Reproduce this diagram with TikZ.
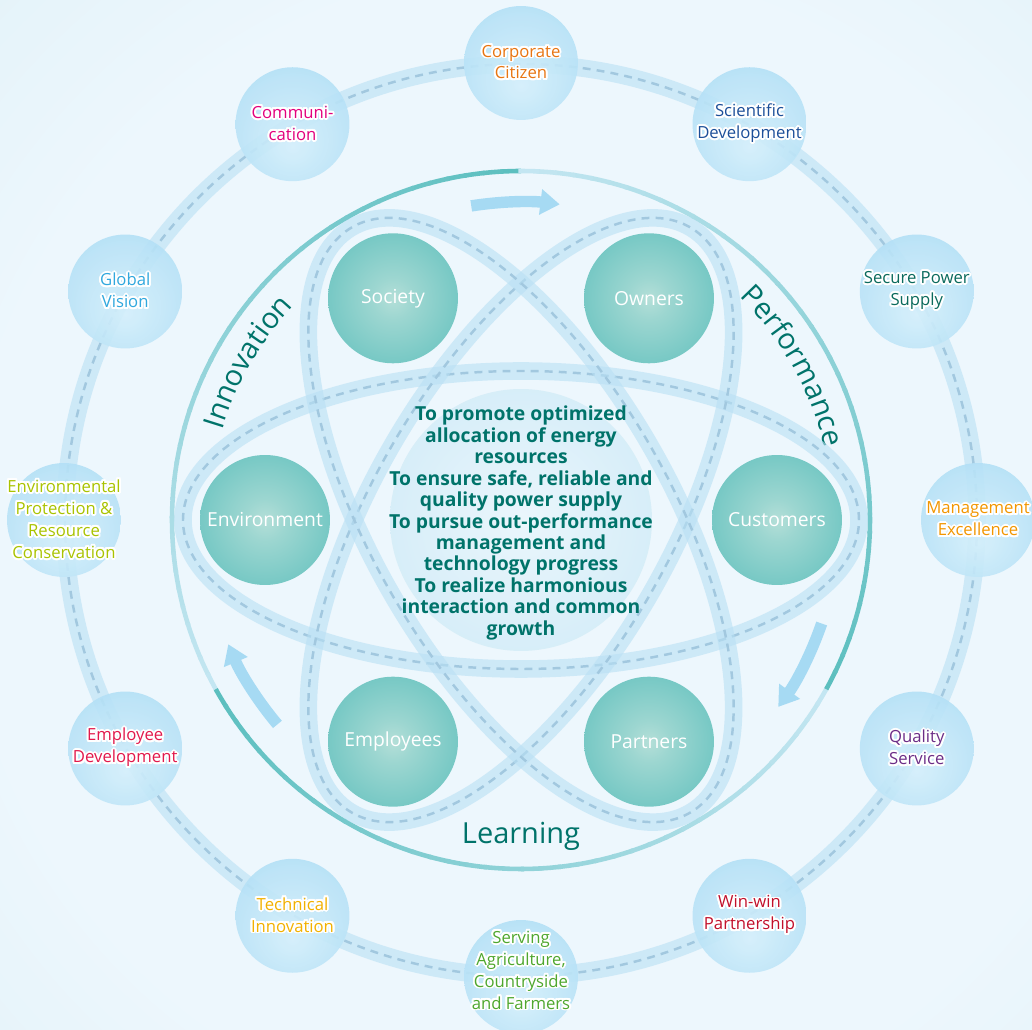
\documentclass[tikz,border=0pt]{standalone}
\usepackage{fontspec}
\setmainfont{Open Sans}
\usepackage{contour}
\contourlength{1.1pt}
\usetikzlibrary{arrows.meta, decorations.text, positioning}

\definecolor{bgin}{HTML}{EDF7FD}
\definecolor{bgout}{HTML}{C6E4EA}
\definecolor{ringteal}{HTML}{5CBFBF}
\definecolor{ringlight}{HTML}{C6E7F3}
\definecolor{orbitband}{HTML}{B9E0F4}
\definecolor{orbitdash}{HTML}{A2C8DF}
\definecolor{arrowblue}{HTML}{A6DAF3}
\definecolor{deepteal}{HTML}{00736A}
\definecolor{tealin}{HTML}{B4DFD8}
\definecolor{tealout}{HTML}{56BCBA}
\definecolor{bubin}{HTML}{D4EFFB}
\definecolor{bubout}{HTML}{92D1F1}
\definecolor{corein}{HTML}{EAF6FC}
\definecolor{coreout}{HTML}{BFE3F4}
% label colours
\definecolor{corpcol}{HTML}{E87511}
\definecolor{scicol}{HTML}{1C4F99}
\definecolor{securecol}{HTML}{0A6A5C}
\definecolor{mgmtcol}{HTML}{F29600}
\definecolor{qualcol}{HTML}{6C2D87}
\definecolor{wincol}{HTML}{C2102B}
\definecolor{servecol}{HTML}{4EA72E}
\definecolor{techcol}{HTML}{F2B100}
\definecolor{empcol}{HTML}{E2194C}
\definecolor{envcol}{HTML}{A9C300}
\definecolor{globalcol}{HTML}{30A8DE}
\definecolor{commcol}{HTML}{E3007D}

\pgfdeclareradialshading{bgshade}{\pgfpointorigin}{color(0bp)=(bgin); color(18bp)=(bgin); color(50bp)=(bgout)}
\pgfdeclareradialshading{tealshade}{\pgfpointorigin}{color(0bp)=(tealin); color(8bp)=(tealin!75!tealout); color(40bp)=(tealout); color(50bp)=(tealout)}
\pgfdeclareradialshading{bubshade}{\pgfpoint{0bp}{-10bp}}{color(0bp)=(bubin); color(25bp)=(bubin!60!bubout); color(50bp)=(bubout)}
\pgfdeclareradialshading{coreshade}{\pgfpointorigin}{color(0bp)=(corein); color(28bp)=(corein!50!coreout); color(50bp)=(coreout)}

\newcommand{\halo}[1]{\contour{white}{#1}}

\tikzset{
  bubble/.style={circle, minimum size=2.28cm, inner sep=0pt, shade, shading=bubshade, fill opacity=0.9},
  bubtext/.style={align=center, font=\fontsize{9.5}{12.5}\selectfont},
  hub/.style={circle, minimum size=2.6cm, inner sep=0pt, shade, shading=tealshade, text=white, font=\fontsize{11}{13}\selectfont},
  core/.style={circle, minimum size=5.24cm, inner sep=0pt, shade, shading=coreshade},
  band/.style={line width=10pt, draw=orbitband, draw opacity=0.6},
  dashline/.style={line width=1.4pt, draw=orbitdash, dash pattern=on 4.5pt off 3.5pt},
  ringarc/.style={line width=2.6pt},
  turnarrow/.style={line width=6.5pt, draw=arrowblue, -{Triangle[width=14pt, length=11pt]}},
  ringword/.style={text=deepteal, font=\fontsize{16.5}{16.5}\selectfont},
}

\begin{document}
\begin{tikzpicture}[x=0.02cm, y=0.02cm]

    \useasboundingbox (-521,-510) rectangle (511,520);
    \begin{scope}
        \clip (-521,-510) rectangle (511,520);
        \shade[shading=bgshade] (30,-30) circle (800);
    \end{scope}

    % outer ring
    \draw[band] (0,0) circle (456);
    \draw[dashline] (0,0) circle (456);

    \node[bubble] (corporate) at (90:457) {};
    \node[bubble] (scientific) at (60:457) {};
    \node[bubble] (secure) at (30:457) {};
    \node[bubble] (management) at (0:457) {};
    \node[bubble] (quality) at (-30:457) {};
    \node[bubble] (winwin) at (-60:457) {};
    \node[bubble] (serving) at (-90:457) {};
    \node[bubble] (technical) at (-120:457) {};
    \node[bubble] (employee) at (-150:457) {};
    \node[bubble] (environmental) at (180:457) {};
    \node[bubble] (global) at (150:457) {};
    \node[bubble] (communication) at (120:457) {};

    \node[bubtext, text=corpcol] at (corporate) {\halo{Corporate}\\\halo{Citizen}};
    \node[bubtext, text=scicol] at (scientific) {\halo{Scientific}\\\halo{Development}};
    \node[bubtext, text=securecol] at (secure) {\halo{Secure Power}\\\halo{Supply}};
    \node[bubtext, text=mgmtcol] at (management) {\halo{Management}\\\halo{Excellence}};
    \node[bubtext, text=qualcol] at (quality) {\halo{Quality}\\\halo{Service}};
    \node[bubtext, text=wincol] at (winwin) {\halo{Win-win}\\\halo{Partnership}};
    \node[bubtext, text=servecol] at ([yshift=0.12cm]serving.center) {\halo{Serving}\\\halo{Agriculture,}\\\halo{Countryside}\\\halo{and Farmers}};
    \node[bubtext, text=techcol] at (technical) {\halo{Technical}\\\halo{Innovation}};
    \node[bubtext, text=empcol] at (employee) {\halo{Employee}\\\halo{Development}};
    \node[bubtext, text=envcol] at (environmental) {\halo{Environmental}\\\halo{Protection \&}\\\halo{Resource}\\\halo{Conservation}};
    \node[bubtext, text=globalcol] at (global) {\halo{Global}\\\halo{Vision}};
    \node[bubtext, text=commcol] at (communication) {\halo{Communi-}\\\halo{cation}};

    % inner ring, teal fading to light
    \foreach \sa/\sb in {90/209, 209/331, 331/450} {
        \foreach \i in {0,...,39} {
            \pgfmathsetmacro\a{\sa+(\sb-\sa)*\i/40}
            \pgfmathsetmacro\b{\sa+(\sb-\sa)*(\i+1.15)/40}
            \pgfmathsetmacro\mix{100-2.5*\i}
            \draw[ringarc, draw=ringteal!\mix!ringlight] (\a:349) arc (\a:\b:349);
        }
    }

    \draw[turnarrow] (99:318) arc (99:83:318);
    \draw[turnarrow] (-19:318) arc (-19:-36:318);
    \draw[turnarrow] (220:318) arc (220:203:318);

    \path[decorate, decoration={text along path, text align=center,
        text={|\fontsize{16.5}{16.5}\selectfont\color{deepteal}|Innovation}}]
        (172:312) arc (172:128:312);
    \path[decorate, decoration={text along path, text align=center,
        text={|\fontsize{16.5}{16.5}\selectfont\color{deepteal}|Performance}}]
        (52:312) arc (52:7:312);
    \node[ringword] (learning) at (0,-316) {Learning};

    % centre and orbits
    \node[core] (core) at (0,0) {};
    \foreach \r in {0,60,120} {
        \draw[band, rotate=\r] (0,0) ellipse (338 and 149);
        \draw[dashline, rotate=\r] (0,0) ellipse (338 and 149);
    }

    \node[hub] (owners) at (60:256) {Owners};
    \node[hub] (society) at (120:256) {Society};
    \node[hub] (environment) at (180:256) {Environment};
    \node[hub] (employees) at (240:256) {Employees};
    \node[hub] (partners) at (300:256) {Partners};
    \node[hub] (customers) at (0:256) {Customers};

    \node[align=center, text=deepteal, font=\fontsize{11}{12.2}\selectfont\bfseries] (mission) at (0,-3)
        {To promote optimized\\allocation of energy\\resources\\To ensure safe, reliable and\\quality power supply\\To pursue out-performance\\management and\\technology progress\\To realize harmonious\\interaction and common\\growth};

\end{tikzpicture}
\end{document}
